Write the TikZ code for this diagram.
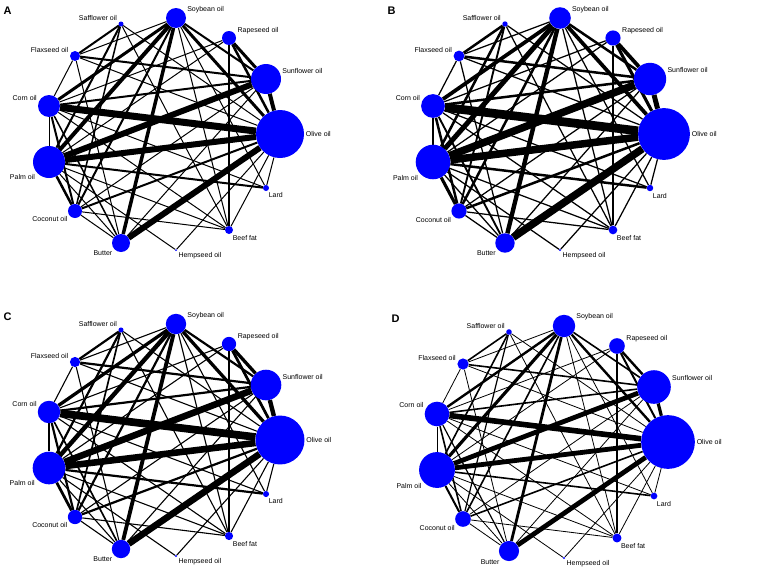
\documentclass[tikz,border=0pt]{standalone}
\usepackage{fontspec}
\setmainfont{Liberation Sans}
\usetikzlibrary{backgrounds,positioning}

\tikzset{
  oil/.style={circle,fill=blue,draw=none,inner sep=0pt},
  oil label/.style={font=\fontsize{7}{8}\selectfont,inner sep=1.5pt},
  panel letter/.style={font=\bfseries\fontsize{11}{12}\selectfont,anchor=north west}
}

% #1 panel letter, #2 shift, #3 edge width factor, #4 node size factor
\newcommand\oilpanel[4]{%
\begin{scope}[shift={#2}]
\node[panel letter] (#1let) at (0,3) {#1};
\foreach \n/\x/\y/\r/\lab/\pos in {
  saf/121/24/2.5/Safflower oil/150,
  soy/176/18/10/Soybean oil/20,
  rap/229/38/7/Rapeseed oil/15,
  fla/75/56/5/Flaxseed oil/165,
  sun/266/79/15/Sunflower oil/15,
  cor/49/106/11/Corn oil/160,
  oli/280/134/24/Olive oil/0,
  pal/49/162/16/Palm oil/220,
  lar/266/188/3/Lard/-70,
  coc/75/211/7/Coconut oil/215,
  bee/229/230/4/Beef fat/-60,
  but/121/243/9/Butter/220,
  hem/176/250/1/Hempseed oil/-45}
  \node[oil,minimum size={2*\r*#4 pt},label={[oil label]\pos:\lab}] (#1\n) at (\x,\y) {};
\begin{scope}[on background layer]
\foreach \a/\b/\w in {
  saf/fla/2, saf/pal/2, saf/coc/1.5, saf/oli/1, saf/bee/1,
  soy/pal/4, soy/cor/3, soy/but/3.5, soy/coc/2, soy/oli/3, soy/sun/2,
  soy/lar/1, soy/bee/1, soy/fla/1,
  rap/sun/3, rap/oli/2.5, rap/bee/1.5, rap/cor/1, rap/pal/1,
  fla/sun/2, fla/cor/1, fla/oli/1, fla/but/1,
  sun/oli/4, sun/pal/6, sun/cor/2, sun/coc/1, sun/but/1,
  cor/oli/7, cor/pal/1, cor/coc/2, cor/but/1.5, cor/lar/1, cor/bee/1,
  oli/pal/6, oli/but/6, oli/coc/2, oli/bee/1, oli/lar/1, oli/hem/1,
  pal/lar/2, pal/coc/2.5, pal/but/1, pal/bee/1, pal/hem/1,
  coc/but/1, coc/bee/1}
  \draw[line width={\w*#3 pt}] (#1\a) -- (#1\b);
\end{scope}
\end{scope}}

\begin{document}
\begin{tikzpicture}[x=1pt,y=-1pt]
\useasboundingbox (0,0) rectangle (766,581);
\oilpanel{A}{(0,0)}{1}{1}
\oilpanel{B}{(384,0)}{1.25}{1.08}
\oilpanel{C}{(0,306)}{1.1}{1.02}
\oilpanel{D}{(388,308)}{0.8}{1.12}
\end{tikzpicture}
\end{document}
